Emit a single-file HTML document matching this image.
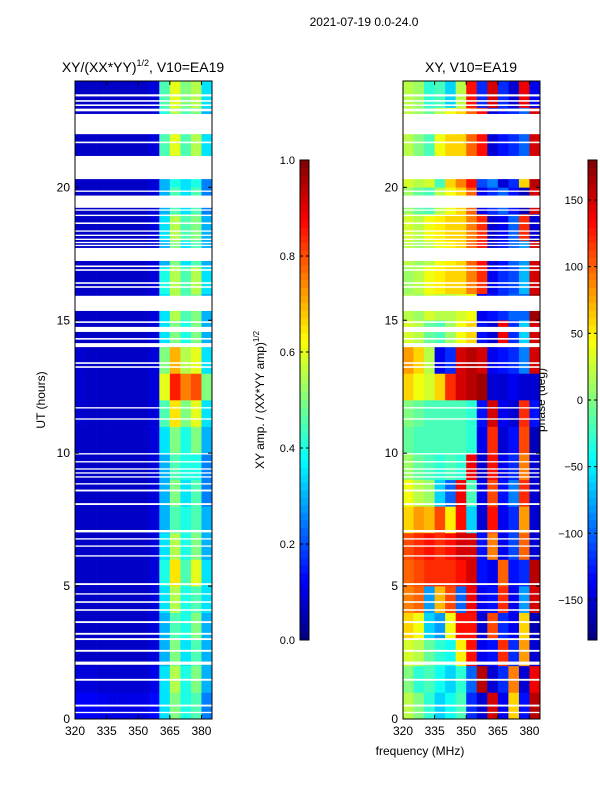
<!DOCTYPE html>
<html><head><meta charset="utf-8"><style>
html,body{margin:0;padding:0;background:#fff;}
svg text{font-family:"Liberation Sans",sans-serif;fill:#000;}
</style></head><body>
<svg id="fig" width="600" height="800" viewBox="0 0 600 800" xmlns="http://www.w3.org/2000/svg">
<text x="364" y="26" font-size="12" text-anchor="middle">2021-07-19 0.0-24.0</text>
<text x="143" y="72" font-size="14" text-anchor="middle">XY/(XX*YY)<tspan font-size="9" dy="-6">1/2</tspan><tspan dy="6">, V10=EA19</tspan></text>
<text x="471" y="72" font-size="14" text-anchor="middle">XY, V10=EA19</text>
<text transform="translate(45,400) rotate(-90)" font-size="12" text-anchor="middle">UT (hours)</text>
<text x="420" y="755" font-size="12" text-anchor="middle">frequency (MHz)</text>
<text transform="translate(264,400) rotate(-90)" font-size="12" text-anchor="middle">XY amp. / (XX*YY amp)<tspan font-size="8" dy="-5">1/2</tspan></text>
<text transform="translate(545,400) rotate(-90)" font-size="12" text-anchor="middle">phase (deg)</text>
<g id="left"></g>
<g id="right"></g>
<g id="cb"></g>
</svg>
<script>
const freqEdges=[320,325,330,335,340,345,350,355,360,365,370,375,380,385];
const xTicks=[320,335,350,365,380];
const yTicks=[0,5,10,15,20];
const ampTicks=[0.0,0.2,0.4,0.6,0.8,1.0];
const phaseTicks=[-150,-100,-50,0,50,100,150];
const ampRows=[
[12,12,11,10,10,10,10,13,35,50,40,45,25],
[9,9,8,8,8,8,8,10,35,55,40,50,30],
[7,7,7,7,7,7,7,9,30,50,35,45,30],
[7,7,7,7,7,7,7,9,30,45,40,50,30],
[7,7,7,7,7,7,7,9,35,55,40,45,35],
[7,7,7,7,7,7,7,9,40,65,45,60,35],
[7,7,7,7,7,7,7,9,35,55,40,50,30],
[7,7,7,7,7,7,7,9,30,45,40,45,30],
[7,7,7,7,7,7,7,9,30,50,35,45,25],
[7,7,7,7,7,7,7,9,30,45,40,40,25],
[7,7,7,7,7,7,7,9,35,50,40,50,30],
[8,7,7,7,7,7,7,9,45,65,50,60,35],
[8,7,7,7,7,7,7,9,60,85,75,80,50],
[8,7,7,7,7,7,7,9,50,70,55,60,35],
[7,7,7,7,7,7,7,9,35,50,40,50,30],
[7,7,7,7,7,7,7,9,35,55,45,50,30],
[7,7,7,7,7,7,7,9,40,55,45,55,35],
[7,7,7,7,7,7,7,9,30,50,35,45,30],
[7,7,7,7,7,7,7,9,35,55,45,50,30],
[7,7,7,7,7,7,7,9,30,45,35,45,25],
[7,7,7,7,7,7,7,9,30,40,35,40,25],
[7,7,7,7,7,7,7,9,45,60,45,55,35],
[7,7,7,7,7,7,7,9,40,55,45,50,30],
[7,7,7,7,7,7,7,9,45,60,50,55,35]];
const phaseRows=[
[20,0,-30,-60,-40,-20,-120,-150,150,-140,60,-130,160],
[0,-30,-20,-40,-60,-30,-100,160,-150,-120,90,-150,140],
[30,20,-10,-30,-40,50,130,-140,-130,120,-120,80,-150],
[60,40,-60,-80,40,130,130,-150,110,-120,-140,60,-160],
[90,100,-80,70,110,-100,140,-140,-130,120,-140,-80,150],
[100,110,120,120,120,130,150,-130,-140,100,-130,-120,160],
[110,120,130,120,130,150,150,-130,90,-140,-110,100,-150],
[60,80,70,110,50,130,-60,-150,130,-140,-120,80,-150],
[40,20,10,-60,-100,140,-20,-140,110,-130,-90,120,-150],
[10,-10,-20,-30,-20,-30,140,-150,130,-140,-120,90,-150],
[-10,-20,-20,-20,-20,-20,-30,-140,120,-150,-130,110,-160],
[0,-10,-20,-20,-20,-20,-30,-130,150,-140,-150,120,-130],
[60,40,30,60,120,150,160,170,-150,-150,-140,-150,-150],
[80,60,20,-140,-120,150,160,150,-140,-130,-120,-90,150],
[30,20,-10,-20,10,40,60,-130,-150,140,-120,-60,150],
[20,10,30,20,20,30,40,-140,-130,-120,-100,-100,170],
[10,20,40,50,60,60,90,120,-140,-120,-110,-70,150],
[20,10,20,40,50,60,100,130,-150,-130,-100,-80,150],
[30,20,40,50,60,60,90,120,-150,-140,-100,120,-150],
[10,-10,-20,20,40,60,100,-140,-120,-100,-130,-160,150],
[30,20,30,-20,60,90,130,-110,-90,-150,-120,60,160],
[20,0,-20,40,60,60,100,130,-150,-130,-120,-100,150],
[20,10,-10,20,40,60,100,130,-150,-130,-120,-100,150],
[20,10,-30,-20,-60,20,130,-120,150,-120,-150,140,-140]];
const gaps=[[23.42,23.5],[23.22,23.28],[23.06,23.12],[22.86,22.96],[22.0,22.76],[21.66,21.72],[20.31,21.18],[19.83,19.88],[19.23,19.69],[19.12,19.17],[18.92,18.97],[18.62,18.68],[18.33,18.38],[18.17,18.22],[18.02,18.07],[17.9,17.95],[17.79,17.84],[17.23,17.72],[17.0,17.06],[16.86,16.92],[16.37,16.43],[16.22,16.28],[15.35,15.92],[14.9,14.96],[14.56,14.75],[14.27,14.33],[13.99,14.14],[13.36,13.42],[13.21,13.27],[11.68,11.73],[11.26,11.31],[9.95,10.0],[9.65,9.7],[9.38,9.43],[9.23,9.28],[9.08,9.13],[8.82,8.87],[8.56,8.63],[8.05,8.12],[7.02,7.11],[6.75,6.8],[6.48,6.53],[6.11,6.16],[5.04,5.11],[4.68,4.73],[4.37,4.43],[4.07,4.13],[3.61,3.68],[3.17,3.24],[2.97,3.04],[2.53,2.6],[2.04,2.16],[1.44,1.51],[0.47,0.54],[0.22,0.27]];
const NS='http://www.w3.org/2000/svg';
function mk(tag,attrs,parent){const e=document.createElementNS(NS,tag);for(const k in attrs)e.setAttribute(k,attrs[k]);parent.appendChild(e);return e;}
function jet(v){v=Math.max(0,Math.min(1,v));
 const r=Math.max(0,Math.min(1,Math.min(4*v-1.5,-4*v+4.5)));
 const g=Math.max(0,Math.min(1,Math.min(4*v-0.5,-4*v+3.5)));
 const b=Math.max(0,Math.min(1,Math.min(4*v+0.5,-4*v+2.5)));
 return `rgb(${Math.round(r*255)},${Math.round(g*255)},${Math.round(b*255)})`;}
const T=81,B=719;
function yS(h){return B-(h/24)*(B-T);}
function panel(gid,L,R,rows,norm){
 const g=document.getElementById(gid);
 const xS=f=>L+(f-320)/(385-320)*(R-L);
 rows.forEach((row,h)=>{row.forEach((v,c)=>{
  const x0=xS(freqEdges[c]),x1=xS(freqEdges[c+1]);
  const r=mk('rect',{x:x0,y:yS(h+1),width:x1-x0+0.3,height:yS(h)-yS(h+1)+0.3,fill:jet(norm(v))},g);
  
  
 });});
 gaps.forEach(gp=>{
  const r=mk('rect',{x:L,y:yS(gp[1]),width:R-L,height:yS(gp[0])-yS(gp[1]),fill:'#fff'},g);
  
  
 });
 const fr=mk('rect',{x:L,y:T,width:R-L,height:B-T,fill:'none',stroke:'#000','stroke-width':1},g);
 
 
 xTicks.forEach(t=>{const x=xS(t);
  mk('line',{x1:x,x2:x,y1:B,y2:B-4,stroke:'#000'},g);mk('line',{x1:x,x2:x,y1:T,y2:T+4,stroke:'#000'},g);
  const tx=mk('text',{x:x,y:B+16,'font-size':12,'text-anchor':'middle'},g);tx.textContent=t;
  
  
 });
 yTicks.forEach(t=>{const y=yS(t);
  mk('line',{x1:L,x2:L+4,y1:y,y2:y,stroke:'#000'},g);mk('line',{x1:R,x2:R-4,y1:y,y2:y,stroke:'#000'},g);
  const tx=mk('text',{x:L-5,y:y+4,'font-size':12,'text-anchor':'end'},g);tx.textContent=t;
  
  
 });
}
panel('left',75,212,ampRows,v=>v/100);
panel('right',403,540,phaseRows,v=>(v+180)/360);
function colorbar(x,lo,hi,ticks,fmt){
 const g=document.getElementById('cb');const top=160,bot=640,w=9,n=64;
 for(let i=0;i<n;i++){const r=mk('rect',{x:x,y:bot-(i+1)*(bot-top)/n,width:w,height:(bot-top)/n+0.4,fill:jet((i+0.5)/n)},g);
  
  }
 mk('rect',{x:x,y:top,width:w,height:bot-top,fill:'none',stroke:'#000'},g);
 ticks.forEach(t=>{const y=bot-(t-lo)/(hi-lo)*(bot-top);
  mk('line',{x1:x,x2:x+3,y1:y,y2:y,stroke:'#000'},g);mk('line',{x1:x+w,x2:x+w-3,y1:y,y2:y,stroke:'#000'},g);
  const tx=mk('text',{x:x-5,y:y+4,'font-size':11,'text-anchor':'end'},g);tx.textContent=fmt(t);
  
  
 });
}
colorbar(300,0,1,ampTicks,t=>t.toFixed(1));
colorbar(588,-180,180,phaseTicks,t=>t<0?'\u2212'+(-t):String(t));
</script>
</body></html>
